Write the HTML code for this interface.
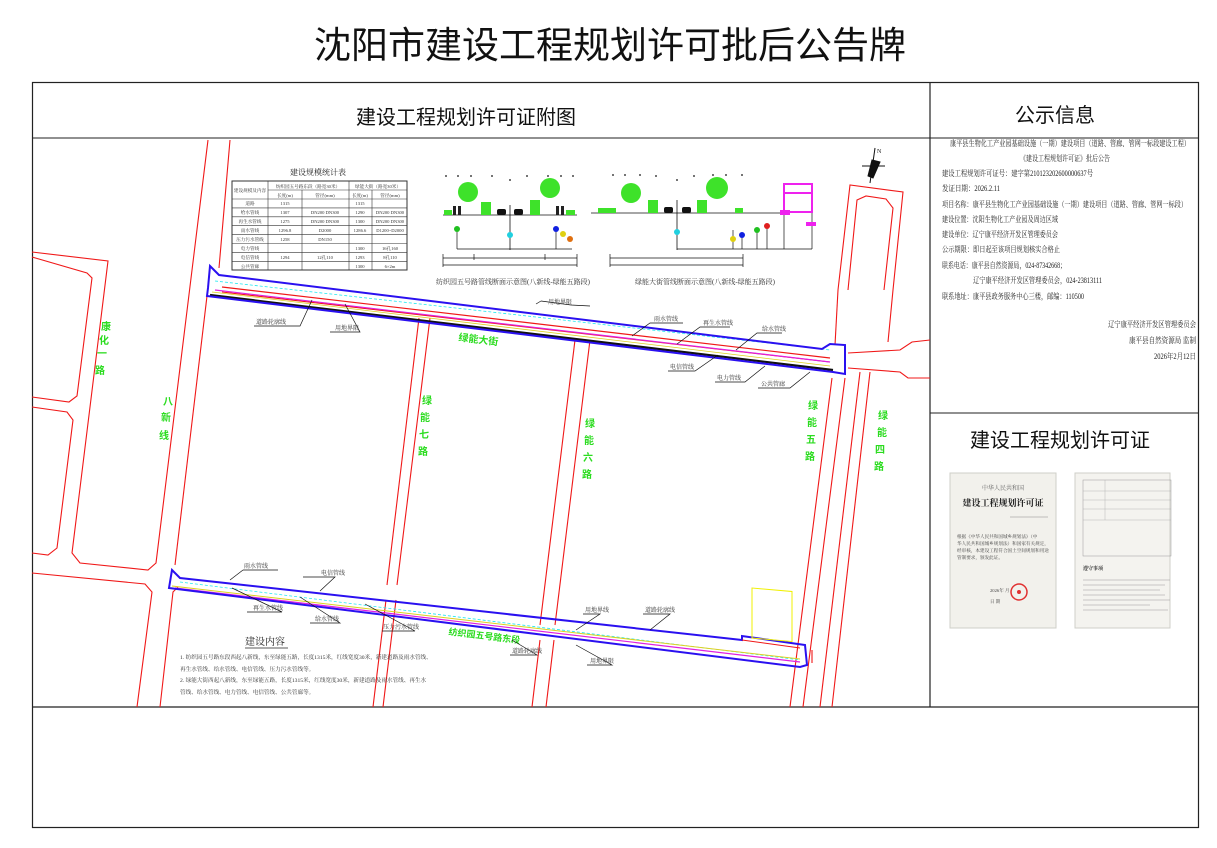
<!DOCTYPE html>
<html><head><meta charset="utf-8"><style>
html,body{margin:0;padding:0;background:#fff;}
svg{display:block;font-family:"Liberation Serif","Noto Serif CJK SC","Noto Sans CJK SC",serif;}
.s{font-size:6px;fill:#333}
.g{fill:#2bdc1f;font-weight:bold;font-family:"Liberation Sans","Noto Sans CJK SC",sans-serif;}
.t{font-size:8px;fill:#222}
</style></head><body>
<svg width="1217" height="848" viewBox="0 0 1217 848" xmlns="http://www.w3.org/2000/svg">
<rect width="1217" height="848" fill="#fff"/>
<text x="610" y="58" text-anchor="middle" font-size="37" fill="#111" font-family="'Liberation Sans','Noto Sans CJK SC',sans-serif">沈阳市建设工程规划许可批后公告牌</text>
<rect x="32.5" y="82.5" width="1166" height="745" fill="none" stroke="#222" stroke-width="1.2"/>
<line x1="930" y1="82" x2="930" y2="707" stroke="#222" stroke-width="1.2"/>
<line x1="32" y1="707" x2="1198" y2="707" stroke="#222" stroke-width="1.2"/>
<line x1="32" y1="138" x2="930" y2="138" stroke="#222" stroke-width="1"/>
<line x1="930" y1="138" x2="1198" y2="138" stroke="#222" stroke-width="1"/>
<line x1="930" y1="413" x2="1198" y2="413" stroke="#222" stroke-width="1"/>
<text x="466" y="124" text-anchor="middle" font-size="20" fill="#111" font-family="'Liberation Sans','Noto Sans CJK SC',sans-serif">建设工程规划许可证附图</text>
<text x="1055" y="122" text-anchor="middle" font-size="20" fill="#111" font-family="'Liberation Sans','Noto Sans CJK SC',sans-serif">公示信息</text>
<text x="1060" y="447" text-anchor="middle" font-size="20" fill="#111" font-family="'Liberation Sans','Noto Sans CJK SC',sans-serif">建设工程规划许可证</text>

<g class="t" lengthAdjust="spacingAndGlyphs">
<text x="950" y="146" textLength="240" lengthAdjust="spacingAndGlyphs">康平县生物化工产业园基础设施（一期）建设项目（道路、管廊、管网一标段建设工程）</text>
<text x="1020" y="161" textLength="90" lengthAdjust="spacingAndGlyphs">《建设工程规划许可证》批后公告</text>
<text x="942" y="176" textLength="151" lengthAdjust="spacingAndGlyphs">建设工程规划许可证号：建字第210123202600000637号</text>
<text x="942" y="191" textLength="58" lengthAdjust="spacingAndGlyphs">发证日期：2026.2.11</text>
<text x="942" y="207" textLength="245" lengthAdjust="spacingAndGlyphs">项目名称：康平县生物化工产业园基础设施（一期）建设项目（道路、管廊、管网一标段）</text>
<text x="942" y="222" textLength="116" lengthAdjust="spacingAndGlyphs">建设位置：沈阳生物化工产业园及周边区域</text>
<text x="942" y="237" textLength="116" lengthAdjust="spacingAndGlyphs">建设单位：辽宁康平经济开发区管理委员会</text>
<text x="942" y="252" textLength="118" lengthAdjust="spacingAndGlyphs">公示期限：即日起至该项目规划核实合格止</text>
<text x="942" y="268" textLength="124" lengthAdjust="spacingAndGlyphs">联系电话：康平县自然资源局，024-87342668；</text>
<text x="973" y="283" textLength="129" lengthAdjust="spacingAndGlyphs">辽宁康平经济开发区管理委员会，024-23813111</text>
<text x="942" y="299" textLength="142" lengthAdjust="spacingAndGlyphs">联系地址：康平县政务服务中心三楼，邮编：110500</text>
<text x="1108" y="327" textLength="88" lengthAdjust="spacingAndGlyphs">辽宁康平经济开发区管理委员会</text>
<text x="1129" y="343" textLength="67" lengthAdjust="spacingAndGlyphs">康平县自然资源局 监制</text>
<text x="1154" y="359" textLength="42" lengthAdjust="spacingAndGlyphs">2026年2月12日</text>
</g>

<g>
<rect x="950" y="473" width="106" height="155" fill="#f2f1ec" stroke="#cfcfc8"/>
<text x="1003" y="490" text-anchor="middle" font-size="6" fill="#666">中华人民共和国</text>
<text x="1003" y="506" text-anchor="middle" font-size="9" fill="#222" font-weight="bold">建设工程规划许可证</text>
<line x1="1010" y1="517" x2="1048" y2="517" stroke="#888" stroke-width="0.5"/>
<g font-size="4.6" fill="#444"><text x="957" y="538">根据《中华人民共和国城乡规划法》（中</text><text x="957" y="545">华人民共和国城乡规划法）和国家有关规定，</text><text x="957" y="552">经审核，本建设工程符合国土空间规划和用途</text><text x="957" y="559">管制要求，颁发此证。</text><text x="990" y="592">2026年 月</text><text x="990" y="603">日 期</text></g>
<circle cx="1019" cy="592" r="8" fill="none" stroke="#e03030" stroke-width="1.5"/>
<circle cx="1019" cy="592" r="2" fill="#e03030"/>
<rect x="1075" y="473" width="95" height="155" fill="#f4f3ef" stroke="#cfcfc8"/>
<rect x="1083" y="480" width="88" height="76" fill="none" stroke="#999" stroke-width="0.5"/>
<g stroke="#aaa" stroke-width="0.4"><line x1="1083" y1="491" x2="1171" y2="491"/><line x1="1083" y1="500" x2="1171" y2="500"/><line x1="1083" y1="509" x2="1171" y2="509"/><line x1="1083" y1="520" x2="1171" y2="520"/><line x1="1105" y1="480" x2="1105" y2="520"/></g>
<text x="1083" y="570" font-size="5" fill="#333" font-weight="bold">遵守事项</text>
<g stroke="#999" stroke-width="0.6"><line x1="1083" y1="580" x2="1170" y2="580"/><line x1="1083" y1="585" x2="1165" y2="585"/><line x1="1083" y1="590" x2="1160" y2="590"/><line x1="1083" y1="595" x2="1165" y2="595"/><line x1="1083" y1="600" x2="1170" y2="600"/><line x1="1083" y1="605" x2="1150" y2="605"/><line x1="1083" y1="610" x2="1168" y2="610"/></g>
</g>

<g fill="none" stroke="#f01818" stroke-width="1.1">
<polyline points="32,252 108,261 72,553 80,563 148,570 156,563 208,140"/>
<polyline points="32,257 87,273 92,278 77,396 69,402 32,397"/>
<polyline points="32,407 67,412 73,420 57,548 48,555 32,553"/>
<polyline points="32,573 145,584 152,592 137,707"/>
<polyline points="230,140 219,268"/>
<polyline points="207,296 175,565"/>
<polyline points="160,707 173,592 178,587"/>
<polyline points="222,292 830,362"/>
<polyline points="419,318 387,585"/><polyline points="430,318 397,585"/>
<polyline points="373,707 386,600"/><polyline points="383,707 396,600"/>
<polyline points="575,340 540,625"/><polyline points="590,340 555,625"/>
<polyline points="532,707 540,640"/><polyline points="546,707 554,640"/>
<polyline points="838,290 850,185 903,192 893,290"/>
<polyline points="848,290 857,200 866,196 886,199 893,208 884,290"/>
<polyline points="838,290 835,345"/>
<polyline points="832,378 790,707"/><polyline points="845,378 803,707"/>
<polyline points="860,372 820,707"/><polyline points="870,372 832,707"/>
<polyline points="848,353 900,350 912,342 930,340"/>
<polyline points="848,368 900,372 908,378 930,378"/>
<polyline points="893,290 888,342"/>
<polyline points="812,650 812,663"/>
</g>
<g fill="none">
<polyline points="222,287 830,358" stroke="#f01818" stroke-width="1.2"/>
<polyline points="215,281 830,350" stroke="#22e8f0" stroke-width="0.8" stroke-dasharray="3,2"/>
<polyline points="215,290 830,362" stroke="#e020e0" stroke-width="1.2"/>
<polyline points="212,292 830,366" stroke="#ddd020" stroke-width="0.8"/>
<polyline points="210,295 833,370" stroke="#111" stroke-width="2.2"/>
<polygon points="210,266 219,275 822,349 830,344 845,345 845,374 833,372 207,296 208,288" stroke="#2a10f0" stroke-width="2"/>
</g>
<g fill="none">
<polyline points="180,582 800,660" stroke="#22e8f0" stroke-width="0.8" stroke-dasharray="3,2"/>
<polyline points="175,588 800,662" stroke="#e020e0" stroke-width="1.2"/>
<polyline points="172,586 800,659" stroke="#ddd020" stroke-width="1"/>
<polygon points="172,570 180,578 742,640 742,636 805,645 807,665 800,667 169,588" stroke="#2a10f0" stroke-width="2"/>
<polyline points="742,640 800,648" stroke="#f01818" stroke-width="1"/>
<rect x="0" y="0" width="40" height="50" stroke="#f0f000" stroke-width="1" transform="translate(752,588) skewY(5)"/>
</g>

<g class="g" font-size="10">
<text x="106" y="330" text-anchor="middle">康</text><text x="104" y="344" text-anchor="middle">化</text><text x="102" y="357" text-anchor="middle">一</text><text x="100" y="374" text-anchor="middle">路</text>
<text x="168" y="405" text-anchor="middle">八</text><text x="166" y="421" text-anchor="middle">新</text><text x="164" y="439" text-anchor="middle">线</text>
<text x="427" y="404" text-anchor="middle">绿</text><text x="425" y="421" text-anchor="middle">能</text><text x="424" y="438" text-anchor="middle">七</text><text x="423" y="455" text-anchor="middle">路</text>
<text x="590" y="427" text-anchor="middle">绿</text><text x="589" y="444" text-anchor="middle">能</text><text x="588" y="461" text-anchor="middle">六</text><text x="587" y="478" text-anchor="middle">路</text>
<text x="813" y="409" text-anchor="middle">绿</text><text x="812" y="426" text-anchor="middle">能</text><text x="811" y="443" text-anchor="middle">五</text><text x="810" y="460" text-anchor="middle">路</text>
<text x="883" y="419" text-anchor="middle">绿</text><text x="882" y="436" text-anchor="middle">能</text><text x="880" y="453" text-anchor="middle">四</text><text x="879" y="470" text-anchor="middle">路</text>
<text x="478" y="343" text-anchor="middle" transform="rotate(7 478 343)">绿能大街</text>
<text x="484" y="639" text-anchor="middle" font-size="9" transform="rotate(7 484 639)">纺织园五号路东段</text>
</g>

<g stroke="#111" stroke-width="0.7" fill="none">
<polyline points="541,301 571,305 590,306"/><polyline points="536,304 541,301"/>
<polyline points="632,336 650,323 683,323"/>
<polyline points="677,344 700,327 730,327"/>
<polyline points="736,350 757,333 782,333"/>
<polyline points="668,371 695,371 718,355"/>
<polyline points="715,382 745,382 765,366"/>
<polyline points="758,388 790,388 810,372"/>
<polyline points="254,326 300,326 312,300"/>
<polyline points="330,332 360,332 345,304"/>
<polyline points="243,570 278,570"/><polyline points="243,570 230,580"/>
<polyline points="303,577 335,577 320,591"/>
<polyline points="247,612 282,612 232,588"/>
<polyline points="310,623 340,623 300,597"/>
<polyline points="382,631 415,631 365,604"/>
<polyline points="583,614 600,614 576,630"/>
<polyline points="643,614 670,614 650,630"/>
<polyline points="510,655 537,655 512,640"/>
<polyline points="587,665 612,665 576,645"/>
</g>
<g class="s">
<text x="548" y="304">用地界限</text>
<text x="654" y="321">雨水管线</text>
<text x="703" y="325">再生水管线</text>
<text x="762" y="331">给水管线</text>
<text x="670" y="369">电信管线</text>
<text x="717" y="380">电力管线</text>
<text x="761" y="386">公共管廊</text>
<text x="256" y="324">道路轮廓线</text>
<text x="335" y="330">用地界限</text>
<text x="244" y="568">雨水管线</text>
<text x="321" y="575">电信管线</text>
<text x="253" y="610">再生水管线</text>
<text x="315" y="621">给水管线</text>
<text x="383" y="629">压力污水管线</text>
<text x="585" y="612">用地界线</text>
<text x="645" y="612">道路轮廓线</text>
<text x="512" y="653">道路轮廓线</text>
<text x="590" y="663">用地界限</text>
</g>

<text x="318" y="175" text-anchor="middle" font-size="8" fill="#222">建设规模统计表</text>
<g stroke="#333" stroke-width="0.6" fill="none">
<rect x="232" y="181" width="175" height="89" stroke-width="1"/>
<line x1="268" y1="181" x2="268" y2="270"/><line x1="302" y1="190" x2="302" y2="270"/>
<line x1="349" y1="181" x2="349" y2="270"/><line x1="372" y1="190" x2="372" y2="270"/>
<line x1="268" y1="190" x2="407" y2="190"/><line x1="232" y1="199" x2="407" y2="199"/>
<line x1="232" y1="207.9" x2="407" y2="207.9"/><line x1="232" y1="216.8" x2="407" y2="216.8"/>
<line x1="232" y1="225.7" x2="407" y2="225.7"/><line x1="232" y1="234.6" x2="407" y2="234.6"/>
<line x1="232" y1="243.5" x2="407" y2="243.5"/><line x1="232" y1="252.4" x2="407" y2="252.4"/>
<line x1="232" y1="261.3" x2="407" y2="261.3"/>
</g>
<g font-size="4.6" fill="#333" text-anchor="middle">
<text x="250" y="192">建设规模及内容</text><text x="308" y="188">纺织园五号路东段（路宽30米）</text><text x="378" y="188">绿能大街（路宽30米）</text>
<text x="285" y="197">长度(m)</text><text x="325" y="197">管径(mm)</text><text x="360" y="197">长度(m)</text><text x="390" y="197">管径(mm)</text>
<text x="250" y="205">道路</text><text x="285" y="205">1315</text><text x="360" y="205">1315</text>
<text x="250" y="214">给水管线</text><text x="285" y="214">1307</text><text x="325" y="214">DN200 DN300</text><text x="360" y="214">1290</text><text x="390" y="214">DN200 DN300</text>
<text x="250" y="223">再生水管线</text><text x="285" y="223">1275</text><text x="325" y="223">DN200 DN300</text><text x="360" y="223">1300</text><text x="390" y="223">DN200 DN300</text>
<text x="250" y="232">雨水管线</text><text x="285" y="232">1296.8</text><text x="325" y="232">D2000</text><text x="360" y="232">1286.6</text><text x="390" y="232">D1200~D2000</text>
<text x="250" y="241">压力污水管线</text><text x="285" y="241">1258</text><text x="325" y="241">DN150</text>
<text x="250" y="250">电力管线</text><text x="360" y="250">1300</text><text x="390" y="250">16孔160</text>
<text x="250" y="259">电信管线</text><text x="285" y="259">1294</text><text x="325" y="259">12孔110</text><text x="360" y="259">1293</text><text x="390" y="259">8孔110</text>
<text x="250" y="268">公共管廊</text><text x="360" y="268">1300</text><text x="390" y="268">6×2m</text>
</g>

<g>
<line x1="443" y1="215" x2="577" y2="215" stroke="#111" stroke-width="0.8"/>
<line x1="510" y1="205" x2="510" y2="250" stroke="#111" stroke-width="0.8"/>
<circle cx="468" cy="192" r="10" fill="#3ee22a"/><circle cx="550" cy="188" r="10" fill="#3ee22a"/>
<rect x="481" y="202" width="10" height="13" fill="#3ee22a"/><rect x="530" y="200" width="10" height="15" fill="#3ee22a"/>
<rect x="444" y="210" width="8" height="5" fill="#3ee22a"/><rect x="566" y="210" width="9" height="5" fill="#3ee22a"/>
<rect x="497" y="209" width="9" height="6" rx="2" fill="#111"/><rect x="514" y="209" width="9" height="6" rx="2" fill="#111"/>
<rect x="453" y="206" width="3" height="9" fill="#222"/><rect x="458" y="206" width="3" height="9" fill="#222"/>
<rect x="556" y="206" width="3" height="9" fill="#222"/><rect x="561" y="206" width="3" height="9" fill="#222"/>
<line x1="457" y1="229" x2="457" y2="249" stroke="#111" stroke-width="0.7"/>
<line x1="556" y1="229" x2="556" y2="249" stroke="#111" stroke-width="0.7"/>
<line x1="457" y1="249" x2="572" y2="249" stroke="#111" stroke-width="0.7"/>
<circle cx="457" cy="229" r="3" fill="#20c020"/><circle cx="510" cy="235" r="3" fill="#20d0e0"/>
<circle cx="556" cy="229" r="3" fill="#1020e0"/><circle cx="563" cy="234" r="3" fill="#e0d010"/><circle cx="570" cy="239" r="3" fill="#e07010"/>
<line x1="443" y1="258" x2="577" y2="258" stroke="#111" stroke-width="0.7"/><line x1="443" y1="265" x2="577" y2="265" stroke="#111" stroke-width="0.7"/>
<line x1="443" y1="254" x2="443" y2="267" stroke="#111" stroke-width="0.7"/><line x1="577" y1="254" x2="577" y2="267" stroke="#111" stroke-width="0.7"/>
<line x1="474" y1="254" x2="474" y2="260" stroke="#111" stroke-width="0.7"/><line x1="545" y1="254" x2="545" y2="260" stroke="#111" stroke-width="0.7"/>
<g fill="#111"><circle cx="446" cy="176" r="0.9"/><circle cx="458" cy="176" r="0.9"/><circle cx="471" cy="176" r="0.9"/><circle cx="492" cy="176" r="0.9"/><circle cx="510" cy="180" r="0.9"/><circle cx="527" cy="176" r="0.9"/><circle cx="548" cy="176" r="0.9"/><circle cx="561" cy="176" r="0.9"/><circle cx="573" cy="176" r="0.9"/></g>
</g>
<text x="513" y="284" text-anchor="middle" font-size="7" fill="#333">纺织园五号路管线断面示意图(八新线-绿能五路段)</text>

<g>
<line x1="591" y1="213" x2="790" y2="213" stroke="#111" stroke-width="0.8"/>
<line x1="677" y1="200" x2="677" y2="250" stroke="#111" stroke-width="0.8"/>
<circle cx="631" cy="193" r="10" fill="#3ee22a"/><circle cx="717" cy="188" r="11" fill="#3ee22a"/>
<rect x="648" y="200" width="10" height="13" fill="#3ee22a"/><rect x="697" y="200" width="10" height="13" fill="#3ee22a"/>
<rect x="598" y="208" width="18" height="5" fill="#3ee22a"/><rect x="735" y="208" width="8" height="5" fill="#3ee22a"/>
<rect x="664" y="207" width="9" height="6" rx="2" fill="#111"/><rect x="682" y="207" width="9" height="6" rx="2" fill="#111"/>
<line x1="677" y1="249" x2="812" y2="249" stroke="#111" stroke-width="0.7"/>
<line x1="733" y1="230" x2="733" y2="249" stroke="#111" stroke-width="0.7"/><line x1="742" y1="235" x2="742" y2="249" stroke="#111" stroke-width="0.7"/>
<line x1="757" y1="230" x2="757" y2="249" stroke="#111" stroke-width="0.7"/><line x1="767" y1="225" x2="767" y2="249" stroke="#111" stroke-width="0.7"/>
<line x1="784" y1="213" x2="784" y2="249" stroke="#111" stroke-width="0.7"/><line x1="812" y1="213" x2="812" y2="249" stroke="#111" stroke-width="0.7"/>
<circle cx="677" cy="232" r="3" fill="#20d0e0"/><circle cx="733" cy="239" r="3" fill="#e0d010"/><circle cx="742" cy="235" r="3" fill="#1020e0"/>
<circle cx="757" cy="230" r="3" fill="#20c020"/><circle cx="767" cy="226" r="3" fill="#e02020"/>
<g fill="none" stroke="#ee22ee" stroke-width="2"><rect x="784" y="184" width="28" height="28"/><line x1="784" y1="193" x2="812" y2="193"/></g>
<rect x="780" y="210" width="10" height="5" fill="#ee22ee"/><rect x="806" y="222" width="10" height="4" fill="#ee22ee"/>
<line x1="610" y1="258" x2="743" y2="258" stroke="#111" stroke-width="0.7"/><line x1="610" y1="265" x2="743" y2="265" stroke="#111" stroke-width="0.7"/>
<line x1="610" y1="254" x2="610" y2="267" stroke="#111" stroke-width="0.7"/><line x1="743" y1="254" x2="743" y2="267" stroke="#111" stroke-width="0.7"/>
<g fill="#111"><circle cx="613" cy="175" r="0.9"/><circle cx="625" cy="175" r="0.9"/><circle cx="640" cy="175" r="0.9"/><circle cx="656" cy="176" r="0.9"/><circle cx="677" cy="180" r="0.9"/><circle cx="694" cy="176" r="0.9"/><circle cx="713" cy="175" r="0.9"/><circle cx="726" cy="175" r="0.9"/><circle cx="742" cy="175" r="0.9"/></g>
</g>
<text x="705" y="284" text-anchor="middle" font-size="7" fill="#333">绿能大街管线断面示意图(八新线-绿能五路段)</text>

<g stroke="#111" stroke-width="1" fill="none">
<line x1="875" y1="148" x2="870" y2="183"/><line x1="862" y1="166" x2="885" y2="166"/>
<path d="M872,160 L880,162 L873,178 L868,176 Z" fill="#111"/>
</g>
<text x="877" y="153" font-size="6" fill="#111">N</text>

<text x="265" y="645" text-anchor="middle" font-size="10" fill="#222">建设内容</text>
<line x1="245" y1="648" x2="288" y2="648" stroke="#222" stroke-width="0.8"/>
<g font-size="5.6" fill="#333">
<text x="180" y="659">1. 纺织园五号路东段西起八新线，东至绿能五路，长度1315米，红线宽度30米，新建道路及雨水管线、</text>
<text x="180" y="671">再生水管线、给水管线、电信管线、压力污水管线等。</text>
<text x="180" y="682">2. 绿能大街西起八新线，东至绿能五路，长度1315米，红线宽度30米，新建道路及雨水管线、再生水</text>
<text x="180" y="694">管线、给水管线、电力管线、电信管线、公共管廊等。</text>
</g>
</svg>
</body></html>
